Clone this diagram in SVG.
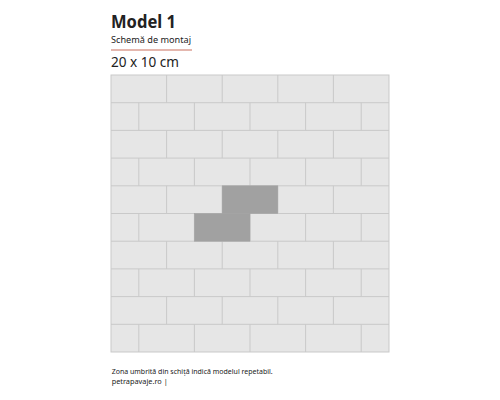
<svg xmlns="http://www.w3.org/2000/svg" width="500" height="400" viewBox="0 0 500 400">
<style>
.t{font-family:"Noto Sans","Liberation Sans",sans-serif;fill:#222}
.b{fill:#e6e6e6;stroke:#c9c9c9;stroke-width:1}
.s{fill:#a1a1a1;stroke:#a1a1a1;stroke-width:0.5}
</style>
<rect width="500" height="400" fill="#ffffff"/>
<g id="header">
<text class="t" x="111" y="28.3" font-size="18" font-weight="700" textLength="65" lengthAdjust="spacingAndGlyphs">Model 1</text>
<text class="t" x="111" y="42.7" font-size="9" fill="#333" textLength="80" lengthAdjust="spacingAndGlyphs">Schemă de montaj</text>
<line x1="111" y1="50" x2="192" y2="50" stroke="#c9705f" stroke-width="1.2"/>
<text class="t" x="111" y="66.7" font-size="13.5" textLength="68" lengthAdjust="spacingAndGlyphs">20 x 10 cm</text>
</g>
<g id="grid">
<rect class="b" x="111" y="75" width="278" height="277"/>
<g id="bricks"></g>
</g>
<g id="connectors" stroke="#c9c9c9" stroke-width="1" fill="none">
<path d="M111 102.7H389M111 130.4H389M111 158.1H389M111 185.8H389M111 213.5H389M111 241.2H389M111 268.9H389M111 296.6H389M111 324.3H389"/>
<path d="M166.6 75V102.7M222.2 75V102.7M277.8 75V102.7M333.4 75V102.7
M166.6 130.4V158.1M222.2 130.4V158.1M277.8 130.4V158.1M333.4 130.4V158.1
M166.6 185.8V213.5M222.2 185.8V213.5M277.8 185.8V213.5M333.4 185.8V213.5
M166.6 241.2V268.9M222.2 241.2V268.9M277.8 241.2V268.9M333.4 241.2V268.9
M166.6 296.6V324.3M222.2 296.6V324.3M277.8 296.6V324.3M333.4 296.6V324.3"/>
<path d="M138.8 102.7V130.4M194.4 102.7V130.4M250 102.7V130.4M305.6 102.7V130.4M361.2 102.7V130.4
M138.8 158.1V185.8M194.4 158.1V185.8M250 158.1V185.8M305.6 158.1V185.8M361.2 158.1V185.8
M138.8 213.5V241.2M194.4 213.5V241.2M250 213.5V241.2M305.6 213.5V241.2M361.2 213.5V241.2
M138.8 268.9V296.6M194.4 268.9V296.6M250 268.9V296.6M305.6 268.9V296.6M361.2 268.9V296.6
M138.8 324.3V352M194.4 324.3V352M250 324.3V352M305.6 324.3V352M361.2 324.3V352"/>
</g>
<g id="shaded">
<rect class="s" x="222.2" y="185.8" width="55.6" height="27.7"/>
<rect class="s" x="194.4" y="213.5" width="55.6" height="27.7"/>
</g>
<g id="footer">
<text class="t" x="111.7" y="373.7" font-size="7" fill="#444" textLength="161" lengthAdjust="spacingAndGlyphs">Zona umbrită din schiță indică modelul repetabil.</text>
<text class="t" x="111.7" y="384.3" font-size="7" fill="#444" textLength="56" lengthAdjust="spacingAndGlyphs">petrapavaje.ro  |</text>
</g>
</svg>
